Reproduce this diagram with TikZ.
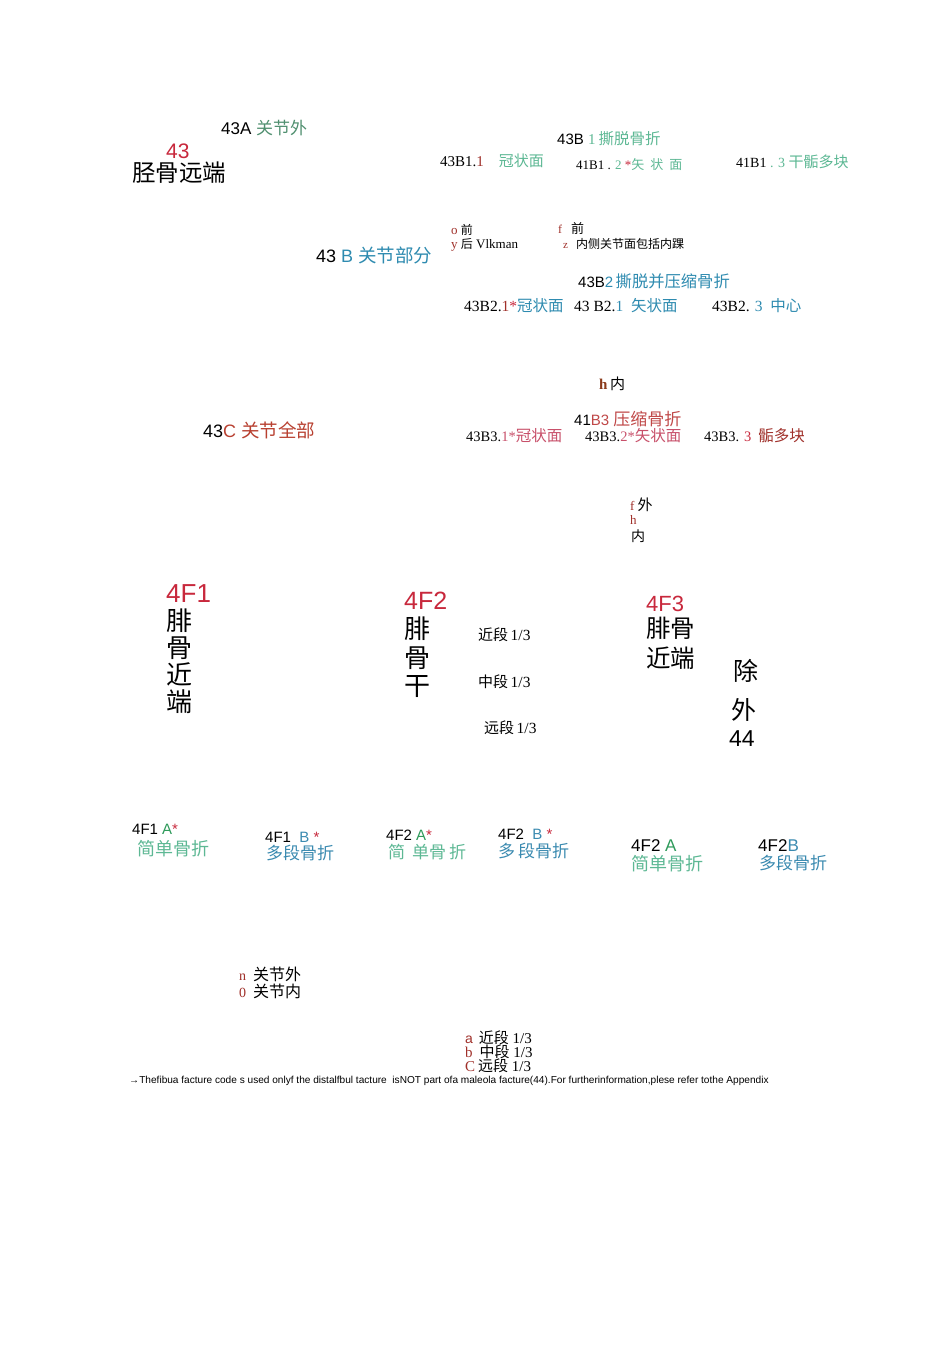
\documentclass[tikz,border=0pt]{standalone}
\usepackage{fontspec}
\setmainfont{Liberation Serif}
\setsansfont{Liberation Sans}
\newfontfamily\cjk{Noto Sans CJK SC}
\newfontfamily\arfont{Liberation Sans}
\newfontfamily\tmfont{Liberation Serif}
\newcommand\fsz[1]{\fontsize{#1}{#1}\selectfont}
\newcommand\zh[1]{{\cjk #1}}
\definecolor{cRed}{HTML}{C8283C}
\definecolor{cGrnA}{HTML}{4F8F6F}
\definecolor{cGrn}{HTML}{5DB894}
\definecolor{cTeal}{HTML}{2E8BB0}
\definecolor{cDkRed}{HTML}{A0302A}
\definecolor{cBrown}{HTML}{8B3A1A}
\definecolor{cCRed}{HTML}{B84030}
\definecolor{cB3}{HTML}{C04848}
\definecolor{cPink}{HTML}{C8506A}
\definecolor{cAGrn}{HTML}{2E9A5A}
\definecolor{cBlue}{HTML}{3A8AB0}
\begin{document}
\begin{tikzpicture}[x=1pt,y=-1pt,
  lbl/.style={inner sep=0pt,anchor=base west}]
\fill[white] (0,0) rectangle (950,1346);
\useasboundingbox (0,0) rectangle (950,1346);
% top block
\node[lbl] (a43A) at (221,134) {\arfont\fsz{17}43A \textcolor{cGrnA}{\zh{\fsz{17}关节外}}};
\node[lbl,text=cRed,text depth=0pt] (a43) at (166,158) {\arfont\fsz{21}43};
\node[lbl,text height=18pt] (tibia) at (132,181) {\zh{\fsz{23.5}胫骨远端}};
\node[lbl] (b1) at (557,144) {\arfont\fsz{15}43B \textcolor{cGrn}{\tmfont 1\hspace{3pt}\zh{\fsz{15.5}撕脱骨折}}};
\node[lbl] (b11) at (440,166) {\tmfont\fsz{15}43B1.\textcolor{cDkRed}{1}\hspace{15pt}\textcolor{cGrn}{\zh{冠状面}}};
\node[lbl] (b12) at (576,169) {\tmfont\fsz{13}41B1 . \textcolor{cGrn}{2} \textcolor{cRed}{*}\textcolor{cGrn}{\zh{矢\hspace{6pt}状\hspace{6pt}面}}};
\node[lbl] (b13) at (736,167) {\tmfont\fsz{14}41B1 \textcolor{cGrn}{. 3 \zh{\fsz{15}干骺多块}}};
\node[lbl] (oq) at (451,234) {\tmfont\fsz{13}\textcolor{cDkRed}{o} \zh{\fsz{12}前}};
\node[lbl] (yh) at (451,248) {\tmfont\fsz{13}\textcolor{cDkRed}{y} \zh{\fsz{12}后} Vlkman};
\node[lbl] (fq) at (558,233) {\tmfont\fsz{12}\textcolor{cDkRed}{f}\hspace{9pt}\zh{\fsz{13}前}};
\node[lbl] (zn) at (563,248) {\tmfont\fsz{11}\textcolor{cDkRed}{z}\hspace{8pt}\zh{\fsz{12}内侧关节面包括内踝}};
\node[lbl] (bpart) at (316,262) {\arfont\fsz{18}43 \textcolor{cTeal}{B \zh{\fsz{18.5}关节部分}}};
\node[lbl] (b2) at (578,287) {\arfont\fsz{15}43B\textcolor{cTeal}{2\,\zh{\fsz{16.3}撕脱并压缩骨折}}};
\node[lbl] (b21) at (464,311) {\tmfont\fsz{15.5}43B2.\textcolor{cDkRed}{1}\textcolor{cRed}{*}\textcolor{cTeal}{\zh{冠状面}}};
\node[lbl] (b22) at (574,311) {\tmfont\fsz{15.5}43 B2.\textcolor{cTeal}{ 1 \ \zh{矢状面}}};
\node[lbl] (b23) at (712,311) {\tmfont\fsz{15.5}43B2. \textcolor{cTeal}{3 \ \zh{中心}}};
\node[lbl] (hn) at (599,389) {\tmfont\fsz{15}\textcolor{cBrown}{\bfseries h}\,\zh{内}};
\node[lbl] (cpart) at (203,437) {\arfont\fsz{18}43\textcolor{cCRed}{C \zh{\fsz{18.5}关节全部}}};
\node[lbl] (b3) at (574,425) {\arfont\fsz{15}41\textcolor{cB3}{B3 \zh{\fsz{17}压缩骨折}}};
\node[lbl] (b31) at (466,441) {\tmfont\fsz{14.5}43B3.\textcolor{cPink}{1*\zh{\fsz{15.5}冠状面}}};
\node[lbl] (b32) at (585,441) {\tmfont\fsz{14.5}43B3.\textcolor{cPink}{2*\zh{\fsz{15.5}矢状面}}};
\node[lbl] (b33) at (704,441) {\tmfont\fsz{14.5}43B3. \textcolor{cRed}{3}\hspace{7pt}\textcolor{cDkRed}{\zh{\fsz{15.5}骺多块}}};
\node[lbl] (fw) at (630,510) {\tmfont\fsz{13}\textcolor{cDkRed}{f}\hspace{3pt}\zh{\fsz{15}外}};
\node[lbl,text=cDkRed] (hh) at (630,524) {\tmfont\fsz{13}h};
\node[lbl] (nei) at (631,541) {\zh{\fsz{14}内}};
% 4F1
\node[lbl,text=cRed] (f1) at (166,602) {\arfont\fsz{26}4F1};
\node[lbl] (f1a) at (166,630) {\zh{\fsz{26}腓}};
\node[lbl] (f1b) at (166,657) {\zh{\fsz{26}骨}};
\node[lbl] (f1c) at (166,684) {\zh{\fsz{26}近}};
\node[lbl] (f1d) at (166,711) {\zh{\fsz{26}端}};
% 4F2
\node[lbl,text=cRed] (f2) at (404,609) {\arfont\fsz{25}4F2};
\node[lbl] (f2a) at (404,638) {\zh{\fsz{26}腓}};
\node[lbl] (f2b) at (404,667) {\zh{\fsz{26}骨}};
\node[lbl] (f2c) at (404,695) {\zh{\fsz{26}干}};
\node[lbl] (s1) at (478,640) {\zh{\fsz{15}近段} \tmfont\fsz{15.5}1/3};
\node[lbl] (s2) at (478,687) {\zh{\fsz{15}中段} \tmfont\fsz{15.5}1/3};
\node[lbl] (s3) at (484,733) {\zh{\fsz{15}远段} \tmfont\fsz{15.5}1/3};
% 4F3
\node[lbl,text=cRed] (f3) at (646,611) {\arfont\fsz{22}4F3};
\node[lbl] (f3a) at (646,637) {\zh{\fsz{24.5}腓骨}};
\node[lbl] (f3b) at (646,667) {\zh{\fsz{24.5}近端}};
\node[lbl] (ex1) at (733,680) {\zh{\fsz{25}除}};
\node[lbl] (ex2) at (731,719) {\zh{\fsz{25}外}};
\node[lbl] (ex3) at (729,746) {\arfont\fsz{23}44};
% bottom row
\node[lbl] (r1) at (132,834) {\arfont\fsz{15}4F1 \textcolor{cAGrn}{A}\textcolor{cRed}{*}};
\node[lbl,text=cGrn] (r1z) at (137,855) {\zh{\fsz{18}简单骨折}};
\node[lbl] (r2) at (265,842) {\arfont\fsz{15}4F1 \ \textcolor{cBlue}{B} \textcolor{cRed}{*}};
\node[lbl,text=cBlue] (r2z) at (266,859) {\zh{\fsz{17}多段骨折}};
\node[lbl] (r3) at (386,840) {\arfont\fsz{15}4F2 \textcolor{cAGrn}{A}\textcolor{cRed}{*}};
\node[lbl,text=cGrn] (r3z) at (388,858) {\zh{\fsz{17}简\hspace{7pt}单骨\hspace{3pt}折}};
\node[lbl] (r4) at (498,839) {\arfont\fsz{15}4F2 \ \textcolor{cBlue}{B} \textcolor{cRed}{*}};
\node[lbl,text=cBlue] (r4z) at (498,857) {\zh{\fsz{17}多\hspace{3pt}段骨折}};
\node[lbl] (r5) at (631,851) {\arfont\fsz{17}4F2 \textcolor{cAGrn}{A}};
\node[lbl,text=cGrn] (r5z) at (631,870) {\zh{\fsz{18}简单骨折}};
\node[lbl] (r6) at (758,851) {\arfont\fsz{17}4F2\textcolor{cBlue}{B}};
\node[lbl,text=cBlue] (r6z) at (759,869) {\zh{\fsz{17}多段骨折}};
% legends
\node[lbl] (ln) at (239,980) {\tmfont\fsz{14}\textcolor{cDkRed}{n}\hspace{7pt}\zh{\fsz{16}关节外}};
\node[lbl] (l0) at (239,997) {\tmfont\fsz{14}\textcolor{cDkRed}{0}\hspace{7pt}\zh{\fsz{16}关节内}};
\node[lbl] (la) at (465,1043) {\arfont\fsz{14}\textcolor{cDkRed}{a}\hspace{6pt}\zh{\fsz{15}近段}\tmfont\fsz{15} 1/3};
\node[lbl] (lb) at (465,1057) {\tmfont\fsz{15}\textcolor{cDkRed}{b}\hspace{7pt}\zh{\fsz{15}中段} 1/3};
\node[lbl] (lc) at (465,1071) {\tmfont\fsz{15}\textcolor{cDkRed}{C}\hspace{3pt}\zh{\fsz{15}远段} 1/3};
\node[lbl] (foot) at (129,1083) {\arfont\fsz{10.1}→Thefibua facture code s used onlyf the distalfbul tacture \ isNOT part ofa maleola facture(44).For furtherinformation,plese refer tothe Appendix};
\end{tikzpicture}
\end{document}
